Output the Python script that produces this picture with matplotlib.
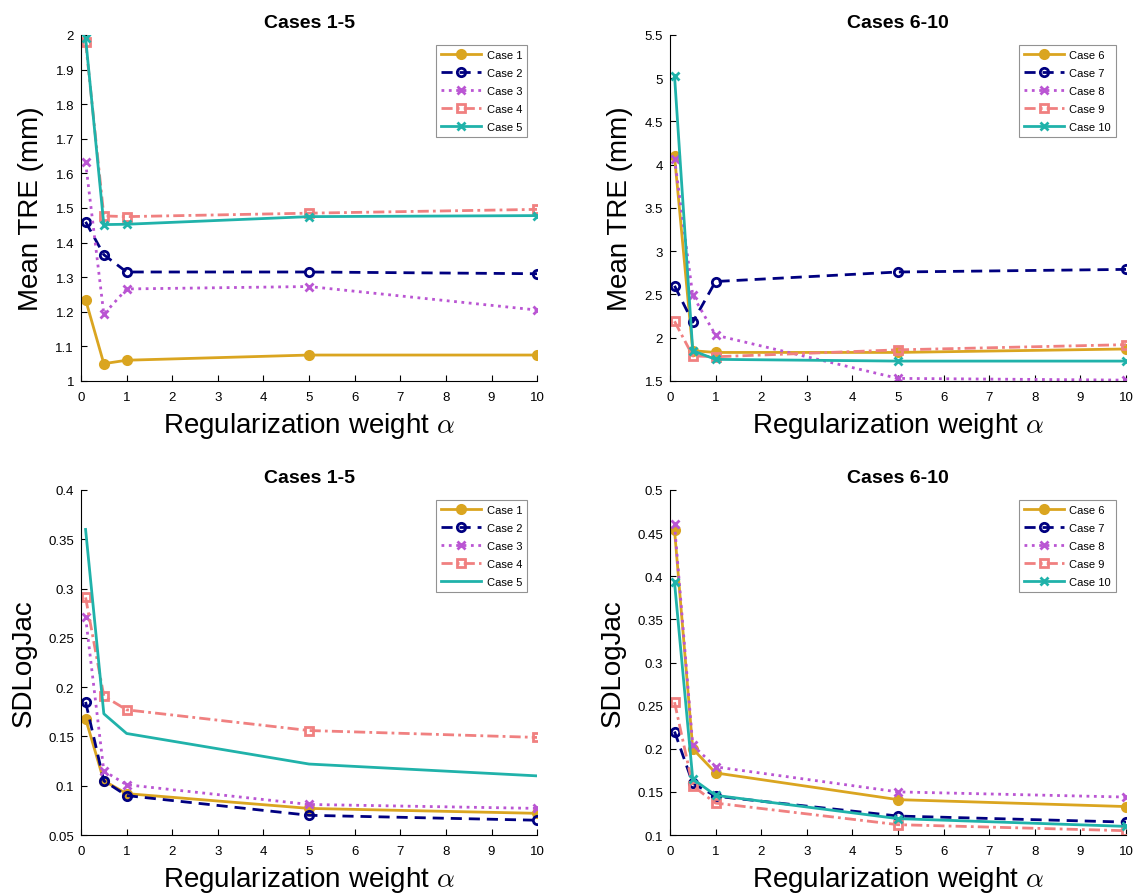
import matplotlib
matplotlib.use("Agg")
import matplotlib.pyplot as plt

plt.rcParams['font.family'] = ['Liberation Sans', 'DejaVu Sans']
plt.rcParams['mathtext.fontset'] = 'cm'

alpha = [0.1, 0.5, 1, 5, 10]

# mean TRE, cases 1-5
tre_1_5 = {
    'Case 1': [1.235, 1.050, 1.060, 1.075, 1.075],
    'Case 2': [1.460, 1.365, 1.315, 1.315, 1.310],
    'Case 3': [1.632, 1.193, 1.266, 1.273, 1.205],
    'Case 4': [1.980, 1.477, 1.475, 1.485, 1.496],
    'Case 5': [1.992, 1.452, 1.453, 1.475, 1.478],
}
# mean TRE, cases 6-10
tre_6_10 = {
    'Case 6': [4.10, 1.85, 1.83, 1.83, 1.87],
    'Case 7': [2.60, 2.18, 2.65, 2.76, 2.79],
    'Case 8': [4.07, 2.49, 2.03, 1.53, 1.51],
    'Case 9': [2.19, 1.79, 1.78, 1.86, 1.92],
    'Case 10': [5.03, 1.85, 1.75, 1.73, 1.73],
}
# SDLogJac, cases 1-5
jac_1_5 = {
    'Case 1': [0.168, 0.105, 0.092, 0.077, 0.072],
    'Case 2': [0.185, 0.105, 0.090, 0.070, 0.065],
    'Case 3': [0.271, 0.115, 0.101, 0.081, 0.077],
    'Case 4': [0.291, 0.191, 0.177, 0.156, 0.149],
    'Case 5': [0.360, 0.173, 0.153, 0.122, 0.110],
}
# SDLogJac, cases 6-10
jac_6_10 = {
    'Case 6': [0.454, 0.200, 0.172, 0.141, 0.133],
    'Case 7': [0.220, 0.160, 0.145, 0.122, 0.115],
    'Case 8': [0.460, 0.204, 0.179, 0.150, 0.144],
    'Case 9': [0.254, 0.157, 0.137, 0.112, 0.105],
    'Case 10': [0.393, 0.165, 0.146, 0.119, 0.110],
}

styles = [
    dict(color='#DAA520', ls='-', marker='o', mfc='#DAA520'),
    dict(color='#000080', ls=(0, (4, 2.5)), marker='o', mfc='none'),
    dict(color='#BA55D3', ls=':', marker='x'),
    dict(color='#F08080', ls=(0, (4, 1.5, 1, 1.5)), marker='s', mfc='none'),
    dict(color='#20B2AA', ls='-', marker='x'),
]

def draw(ax, data, title, ylabel, ylim, yticks, plain_last=False):
    for i, (name, vals) in enumerate(data.items()):
        st = dict(styles[i])
        if plain_last and i == 4:
            st['marker'] = None
        ax.plot(alpha, vals, label=name, lw=2, ms=6, mew=2, **st)
    ax.set_xlim(0, 10)
    ax.set_ylim(*ylim)
    ax.set_xticks(range(0, 11))
    ax.set_yticks(yticks)
    ax.set_yticklabels(['%g' % t for t in yticks])
    ax.spines['top'].set_visible(False)
    ax.spines['right'].set_visible(False)
    ax.tick_params(direction='in', labelsize=9.5, length=4)
    ax.tick_params(axis='x', pad=7)
    ax.tick_params(axis='y', pad=5)
    ax.set_title(title, fontsize=14, fontweight='bold', pad=6)
    ax.set_xlabel(r'Regularization weight $\alpha$', fontsize=20, labelpad=5)
    ax.set_ylabel(ylabel, fontsize=20, labelpad=8)
    leg = ax.legend(loc='upper right', fontsize=8, fancybox=False, edgecolor='#777777',
                    handlelength=3.6, handletextpad=0.5, borderpad=0.45,
                    borderaxespad=0.9, labelspacing=0.72)
    leg.get_frame().set_linewidth(0.8)

fig = plt.figure(figsize=(11.46, 8.95), dpi=100)
ax1 = fig.add_axes([0.0707, 0.5732, 0.398, 0.3866])
ax2 = fig.add_axes([0.5846, 0.5732, 0.398, 0.3866])
ax3 = fig.add_axes([0.0707, 0.0659, 0.398, 0.3855])
ax4 = fig.add_axes([0.5846, 0.0659, 0.398, 0.3855])

draw(ax1, tre_1_5, 'Cases 1-5', 'Mean TRE (mm)', (1, 2),
     [1, 1.1, 1.2, 1.3, 1.4, 1.5, 1.6, 1.7, 1.8, 1.9, 2])
draw(ax2, tre_6_10, 'Cases 6-10', 'Mean TRE (mm)', (1.5, 5.5),
     [1.5, 2, 2.5, 3, 3.5, 4, 4.5, 5, 5.5])
draw(ax3, jac_1_5, 'Cases 1-5', 'SDLogJac', (0.05, 0.4),
     [0.05, 0.1, 0.15, 0.2, 0.25, 0.3, 0.35, 0.4], plain_last=True)
draw(ax4, jac_6_10, 'Cases 6-10', 'SDLogJac', (0.1, 0.5),
     [0.1, 0.15, 0.2, 0.25, 0.3, 0.35, 0.4, 0.45, 0.5])

fig.savefig('out.png', dpi=100)
